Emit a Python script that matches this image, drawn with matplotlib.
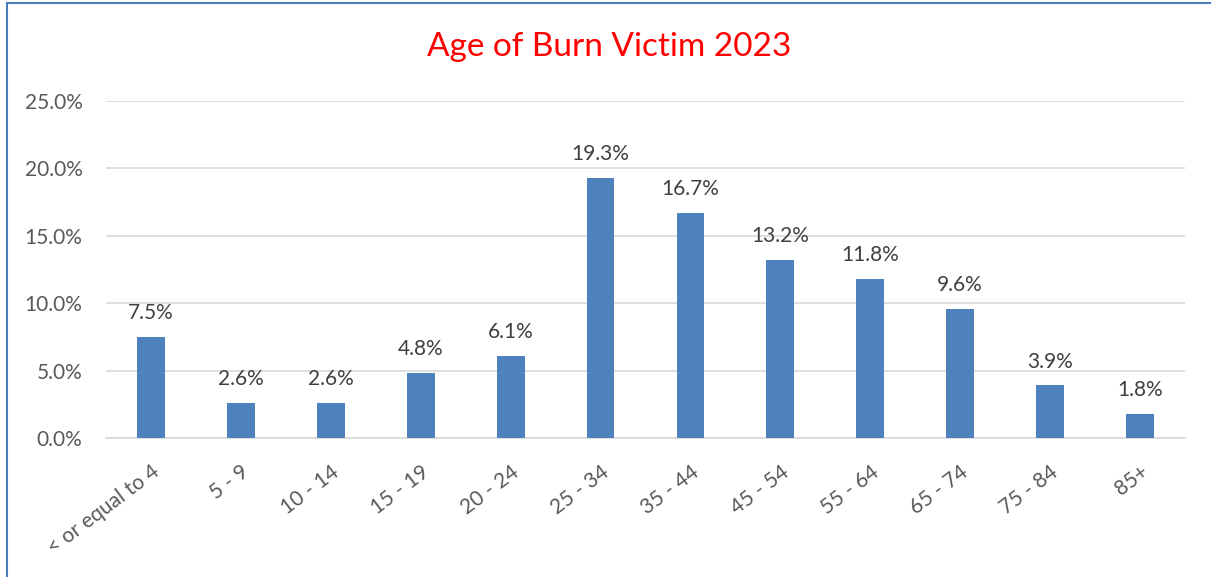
import matplotlib
matplotlib.use("Agg")
import matplotlib.pyplot as plt
from matplotlib.lines import Line2D
from matplotlib.ticker import PercentFormatter

# ── data ──────────────────────────────────────────────────────────────────────
age_groups = ["< or equal to 4", "5 - 9", "10 - 14", "15 - 19", "20 - 24",
              "25 - 34", "35 - 44", "45 - 54", "55 - 64", "65 - 74",
              "75 - 84", "85+"]
share = [7.5, 2.6, 2.6, 4.8, 6.1, 19.3, 16.7, 13.2, 11.8, 9.6, 3.9, 1.8]
y_ticks = [0, 5, 10, 15, 20, 25]

plt.rcParams["font.family"] = ["Lato", "DejaVu Sans"]

W, H = 1211, 577
fig = plt.figure(figsize=(W / 100, H / 100), dpi=100)
ax = fig.add_axes([106 / W, 1 - 438 / H, (1185 - 106) / W, (438 - 101) / H])

x = range(len(age_groups))
bars = ax.bar(x, share, width=0.31, color="#4f81bd", zorder=3)

for b, v in zip(bars, share):
    ax.annotate(f"{v:.1f}%", (b.get_x() + b.get_width() / 2, v),
                xytext=(0, 10), textcoords="offset points",
                ha="center", va="bottom", fontsize=15, color="#404040")

ax.set_xlim(-0.5, len(age_groups) - 0.5)
ax.set_ylim(0, 25)
ax.set_yticks(y_ticks)
ax.yaxis.set_major_formatter(PercentFormatter(decimals=1))
ax.set_xticks(list(x))
ax.set_xticklabels(age_groups, rotation=37, ha="right", va="top",
                   rotation_mode="anchor")
ax.tick_params(axis="x", length=0, pad=17, labelsize=15, labelcolor="#595959")
ax.tick_params(axis="y", length=0, pad=17, labelsize=15, labelcolor="#595959")
ax.grid(axis="y", color="#d9d9d9", linewidth=1.2, zorder=0)
for s in ["top", "right", "left"]:
    ax.spines[s].set_visible(False)
ax.spines["bottom"].set_color("#d9d9d9")
ax.spines["bottom"].set_linewidth(1.2)

fig.text(0.503, 1 - 47 / H, "Age of Burn Victim 2023", ha="center",
         va="center", fontsize=24, color="#ff0000")

# chart frame (left and top edges visible in the crop)
fig.add_artist(Line2D([6.5 / W, 6.5 / W], [0, 1 - 2.5 / H],
                      transform=fig.transFigure, color="#4a7ebb", linewidth=1.5))
fig.add_artist(Line2D([6.5 / W, 1], [1 - 2.5 / H, 1 - 2.5 / H],
                      transform=fig.transFigure, color="#4a7ebb", linewidth=1.5))

fig.savefig("out.png", dpi=100)
